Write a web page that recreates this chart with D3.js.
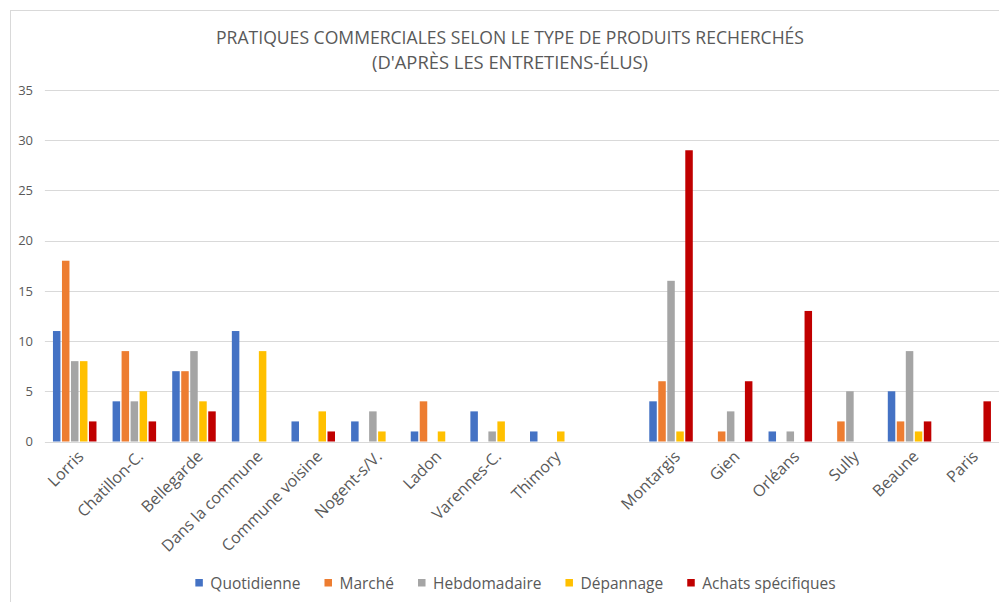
<!DOCTYPE html>
<html>
<head>
<meta charset="utf-8">
<script src="https://cdn.jsdelivr.net/npm/d3@7"></script>
<style>
  html, body { margin: 0; padding: 0; background: #fff; }
  svg { display: block; }
  text { font-family: "Open Sans", "Noto Sans", sans-serif; fill: #595959; }
</style>
</head>
<body>
<svg id="chart" width="999" height="602"></svg>
<script>
// Places visited (blank slot separates local communes from larger towns)
const categories = ["Lorris", "Chatillon-C.", "Bellegarde", "Dans la commune", "Commune voisine",
  "Nogent-s/V.", "Ladon", "Varennes-C.", "Thimory", "", "Montargis", "Gien", "Orléans",
  "Sully", "Beaune", "Paris"];

const seriesNames = ["Quotidienne", "Marché", "Hebdomadaire", "Dépannage", "Achats spécifiques"];
const seriesColors = ["#4472C4", "#ED7D31", "#A5A5A5", "#FFC000", "#C00000"];

// Number of mentions per place, one array per type of purchase
const quotidienne = [11, 4, 7, 11, 2, 2, 1, 3, 1, 0, 4, 0, 1, 0, 5, 0];
const marche      = [18, 9, 7, 0, 0, 0, 4, 0, 0, 0, 6, 1, 0, 2, 2, 0];
const hebdomadaire= [8, 4, 9, 0, 0, 3, 0, 1, 0, 0, 16, 3, 1, 5, 9, 0];
const depannage   = [8, 5, 4, 9, 3, 1, 1, 2, 1, 0, 1, 0, 0, 0, 1, 0];
const achats      = [2, 2, 3, 0, 1, 0, 0, 0, 0, 0, 29, 6, 13, 0, 2, 4];

const yTicks = [0, 5, 10, 15, 20, 25, 30, 35];
const titleLines = ["PRATIQUES COMMERCIALES SELON LE TYPE DE PRODUITS RECHERCHÉS",
  "(D'APRÈS LES ENTRETIENS-ÉLUS)"];

const seriesValues = [quotidienne, marche, hebdomadaire, depannage, achats];

const svg = d3.select("#chart");

// Chart frame
svg.append("rect")
  .attr("x", 10.5).attr("y", 10.5)
  .attr("width", 1100).attr("height", 700)
  .attr("fill", "none").attr("stroke", "#d9d9d9").attr("stroke-width", 1);

// Title
const titleCx = 510;
const titleWidths = [588, 276];
titleLines.forEach((line, i) => {
  svg.append("text")
    .attr("x", titleCx).attr("y", 44 + i * 25)
    .attr("text-anchor", "middle")
    .attr("font-size", 19)
    .attr("textLength", titleWidths[i])
    .attr("lengthAdjust", "spacingAndGlyphs")
    .text(line);
});

const plot = { left: 44.9, right: 999, top: 90, bottom: 441.5 };

const x0 = d3.scaleBand()
  .domain(d3.range(categories.length))
  .range([plot.left, plot.right])
  .paddingInner(0.245)
  .paddingOuter(0.1225);

const x1 = d3.scaleBand()
  .domain(d3.range(seriesNames.length))
  .range([0, x0.bandwidth()]);

const y = d3.scaleLinear().domain([0, 35]).range([plot.bottom, plot.top]);

// Horizontal gridlines
svg.append("g")
  .selectAll("line")
  .data(yTicks)
  .join("line")
  .attr("x1", plot.left).attr("x2", plot.right)
  .attr("y1", d => Math.round(y(d)) + 0.5).attr("y2", d => Math.round(y(d)) + 0.5)
  .attr("stroke", "#d9d9d9").attr("stroke-width", 1.2);

// Y-axis labels
const yAxis = d3.axisLeft(y).tickValues(yTicks).tickSize(0).tickPadding(0);
const yg = svg.append("g")
  .attr("transform", `translate(33,0)`)
  .call(yAxis);
yg.select(".domain").remove();
yg.selectAll("text")
  .attr("font-size", 13)
  .attr("font-family", "\"Open Sans\", sans-serif")
  .attr("fill", "#595959");

// Bars
const groups = svg.append("g")
  .selectAll("g")
  .data(categories.map((c, i) => i))
  .join("g")
  .attr("transform", i => `translate(${x0(i)},0)`);

groups.selectAll("rect")
  .data(i => seriesValues.map((vals, s) => ({ s, v: vals[i] })).filter(d => d.v > 0))
  .join("rect")
  .attr("x", d => x1(d.s) + 0.75)
  .attr("width", x1.bandwidth() - 1.5)
  .attr("y", d => y(d.v))
  .attr("height", d => y(0) - y(d.v))
  .attr("fill", d => seriesColors[d.s]);

// Category labels, rotated
const xAxis = d3.axisBottom(x0).tickSize(0).tickPadding(0).tickFormat(i => categories[i]);
const xg = svg.append("g")
  .attr("transform", `translate(0,${plot.bottom})`)
  .call(xAxis);
xg.select(".domain").remove();
xg.selectAll("text")
  .attr("font-size", 16)
  .attr("font-family", "\"Open Sans\", sans-serif")
  .attr("fill", "#595959")
  .attr("text-anchor", "end")
  .attr("dy", 0)
  .attr("transform", "translate(10,16) rotate(-45)");

// Legend
const legend = svg.append("g");
let lx = 0;
seriesNames.forEach((name, i) => {
  const g = legend.append("g");
  g.append("rect").attr("x", 0).attr("y", -4).attr("width", 7.5).attr("height", 7.5)
    .attr("fill", seriesColors[i]);
  const t = g.append("text").attr("x", 15).attr("y", 5.5)
    .attr("font-size", 15.5).text(name);
  const w = 15 + t.node().getComputedTextLength();
  g.attr("transform", `translate(${lx},0)`);
  lx += w + 24;
});
const legendWidth = lx - 24;
legend.attr("transform", `translate(${515.5 - legendWidth / 2},583)`);
</script>
</body>
</html>
